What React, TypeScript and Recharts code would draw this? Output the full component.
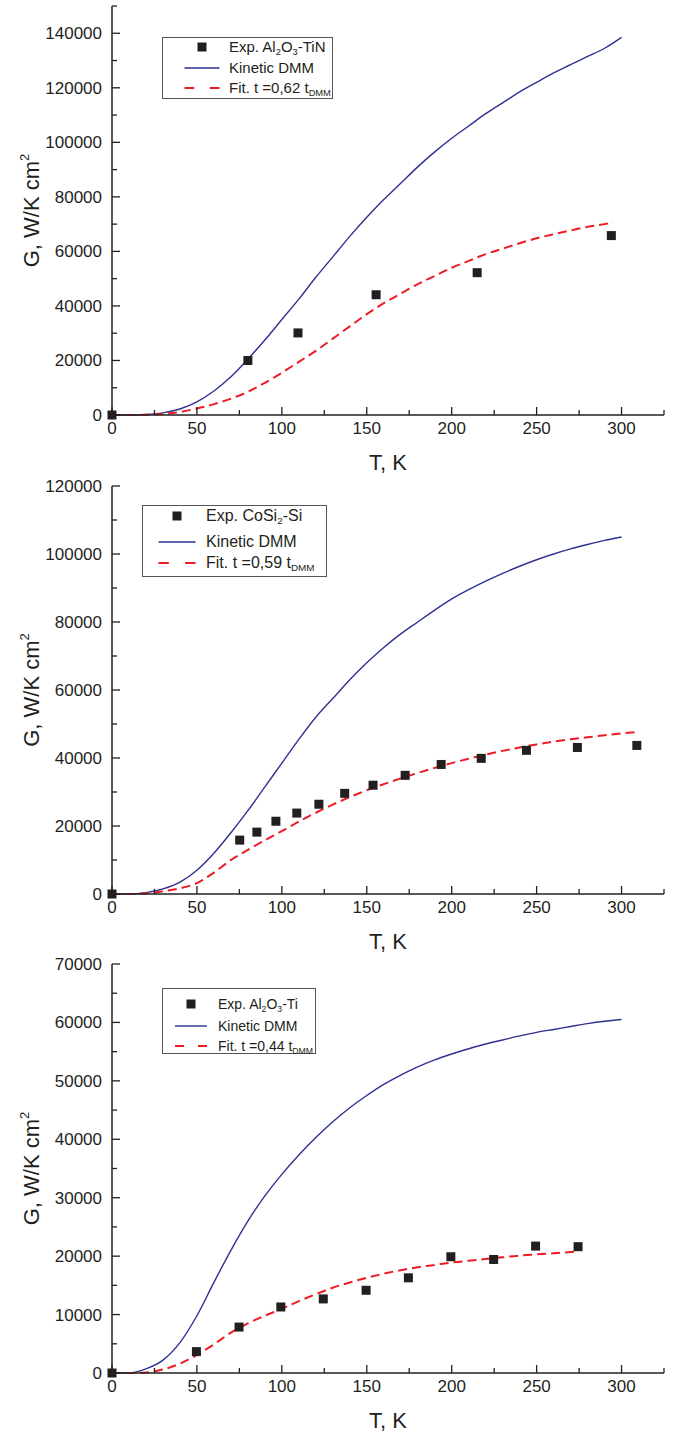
import React from 'react';
import { ComposedChart, Line, Scatter, XAxis, YAxis, Legend, Label } from 'recharts';

const FONT = '"Liberation Sans", Arial, Helvetica, sans-serif';
const INK = '#231f20';
const BLUE = '#2e3192';
const RED = '#ed1c24';

// shared temperature grid for the model curves
const tGrid = [0, 10, 20, 30, 40, 50, 60, 70, 80, 90, 100, 110, 120, 130, 140, 150, 160, 170, 180, 190, 200, 210, 220, 230, 240, 250, 260, 270, 280, 290, 300];
const xTicks = [0, 25, 50, 75, 100, 125, 150, 175, 200, 225, 250, 275, 300, 325];

// panel 1: Al2O3-TiN
const tinExpT = [0, 80, 109.5, 155.5, 215, 294];
const tinExpG = [0, 20000, 30100, 44100, 52200, 65800];
const tinDmmG = [0, 0, 200, 800, 2200, 4800, 8800, 14000, 20500, 27500, 35000, 42500, 50500, 58000, 65500, 72500, 79000, 85000, 91000, 96500, 101500, 106000, 110500, 114500, 118500, 122000, 125500, 128500, 131500, 134500, 138500];
const tinFitT = [0, 10, 20, 30, 40, 50, 60, 70, 80, 90, 100, 110, 120, 130, 140, 150, 160, 170, 180, 190, 200, 210, 220, 230, 240, 250, 260, 270, 280, 290, 295];
const tinFitG = [0, 0, 100, 400, 1100, 2400, 4000, 6000, 8500, 11800, 15500, 19500, 23500, 28000, 32500, 37000, 41000, 44500, 48000, 51000, 54000, 56500, 59000, 61000, 63000, 64800, 66300, 67700, 69000, 70000, 70500];
const tinYTicks = [0, 10000, 20000, 30000, 40000, 50000, 60000, 70000, 80000, 90000, 100000, 110000, 120000, 130000, 140000, 150000];

// panel 2: CoSi2-Si
const cosiExpT = [0, 75.2, 85.3, 96.5, 108.8, 121.8, 137, 153.7, 172.6, 193.8, 217.4, 244, 274, 309];
const cosiExpG = [0, 15850, 18200, 21400, 23800, 26400, 29600, 32000, 34900, 38100, 39900, 42250, 43100, 43700];
const cosiDmmG = [0, 0, 400, 1500, 3500, 7000, 12000, 18000, 24500, 31500, 38500, 45500, 52000, 57500, 63000, 68000, 72500, 76500, 80000, 83500, 86800, 89500, 92000, 94300, 96400, 98300, 100000, 101500, 102800, 104000, 105000];
const cosiFitT = [0, 10, 20, 30, 40, 50, 60, 70, 80, 90, 100, 110, 120, 130, 140, 150, 160, 170, 180, 190, 200, 210, 220, 230, 240, 250, 260, 270, 280, 290, 300, 310];
const cosiFitG = [0, 0, 200, 800, 1700, 3200, 6300, 10000, 13000, 15800, 18500, 21300, 23900, 26300, 28500, 30500, 32300, 34000, 35600, 37100, 38500, 39800, 41000, 42100, 43100, 44000, 44800, 45500, 46100, 46700, 47200, 47700];
const cosiYTicks = [0, 10000, 20000, 30000, 40000, 50000, 60000, 70000, 80000, 90000, 100000, 110000, 120000];

// panel 3: Al2O3-Ti
const tiExpT = [0, 49.7, 74.8, 99.4, 124.4, 149.6, 174.5, 199.5, 224.7, 249.4, 274.4];
const tiExpG = [0, 3660, 7860, 11300, 12680, 14160, 16290, 19900, 19430, 21720, 21620];
const tiDmmG = [0, 0, 700, 2200, 5200, 9800, 15500, 21000, 26000, 30300, 34000, 37300, 40300, 43000, 45400, 47500, 49400, 51000, 52400, 53600, 54600, 55500, 56300, 57000, 57700, 58300, 58800, 59300, 59800, 60200, 60500];
const tiFitT = [0, 10, 20, 30, 40, 50, 60, 70, 80, 90, 100, 110, 120, 130, 140, 150, 160, 170, 180, 190, 200, 210, 220, 230, 240, 250, 260, 270, 275];
const tiFitG = [0, 0, 100, 600, 1600, 3100, 4900, 6900, 8500, 9800, 11000, 12300, 13500, 14600, 15500, 16300, 17000, 17600, 18100, 18500, 18900, 19200, 19500, 19800, 20100, 20300, 20500, 20700, 20800];
const tiYTicks = [0, 5000, 10000, 15000, 20000, 25000, 30000, 35000, 40000, 45000, 50000, 55000, 60000, 65000, 70000];

const pts = (t: number[], g: number[]) => t.map((v, i) => ({ t: v, g: g[i] }));

const XTick = (props: any) => {
  const { x, y, payload } = props;
  const v = payload.value;
  const major = v % 50 === 0;
  return (
    <g>
      <line x1={x} x2={x} y1={y} y2={y - (major ? 8 : 5)} stroke={INK} strokeWidth={1.3} />
      {major && v <= 300 && (
        <text x={x} y={y + 19} textAnchor="middle" fontSize={17} fill={INK} fontFamily={FONT}>
          {v}
        </text>
      )}
    </g>
  );
};

const YTick = (props: any) => {
  const { x, y, payload, step } = props;
  const v = payload.value;
  const major = v % step === 0;
  return (
    <g>
      <line x1={x} x2={x + (major ? 8 : 5)} y1={y} y2={y} stroke={INK} strokeWidth={1.3} />
      {major && (
        <text x={x - 10} y={y + 6} textAnchor="end" fontSize={17} fill={INK} fontFamily={FONT}>
          {v}
        </text>
      )}
    </g>
  );
};

const YTitle = (props: any) => {
  const vb = props.viewBox || {};
  const cx = 39;
  const cy = vb.y + vb.height / 2;
  return (
    <text
      x={cx}
      y={cy}
      transform={`rotate(-90 ${cx} ${cy})`}
      textAnchor="middle"
      fontSize={22}
      fill={INK}
      fontFamily={FONT}
    >
      G, W/K cm<tspan fontSize={13} dy={-10}>2</tspan>
    </text>
  );
};

const XTitle = (props: any) => {
  const vb = props.viewBox || {};
  return (
    <text x={vb.x + vb.width / 2} y={vb.y + 55} textAnchor="middle" fontSize={22} fill={INK} fontFamily={FONT}>
      T, K
    </text>
  );
};

const Square = (props: any) => {
  const { cx, cy } = props;
  if (cx == null || cy == null) return null;
  return <rect x={cx - 4.5} y={cy - 4.5} width={9} height={9} fill={INK} />;
};

const subStyle: React.CSSProperties = { fontSize: '0.62em', verticalAlign: '-0.35em', lineHeight: 0 };

interface BoxCfg {
  width: number;
  height: number;
  symX: number;
  textX: number;
  rows: number[];
  fontSize: number;
  lineLen: number;
  labels: React.ReactNode[];
}

const LegendBox = ({ cfg }: { cfg: BoxCfg }) => {
  const half = cfg.lineLen / 2;
  const symbols = [
    <rect key="s" x={cfg.symX - 4.5} y={-4.5} width={9} height={9} fill={INK} />,
    <line key="l" x1={cfg.symX - half} x2={cfg.symX + half} y1={0} y2={0} stroke={BLUE} strokeWidth={1.4} />,
    <line key="d" x1={cfg.symX - half} x2={cfg.symX + half} y1={0} y2={0} stroke={RED} strokeWidth={2} strokeDasharray={`${cfg.lineLen * 0.28} ${cfg.lineLen * 0.44}`} />,
  ];
  return (
    <div
      style={{
        position: 'relative',
        width: cfg.width,
        height: cfg.height,
        border: '1px solid #555',
        boxSizing: 'border-box',
        background: '#fff',
        fontFamily: FONT,
        color: INK,
      }}
    >
      {cfg.rows.map((ry, i) => (
        <React.Fragment key={i}>
          <svg width={cfg.textX} height={12} style={{ position: 'absolute', left: 0, top: ry - 6 }}>
            <g transform="translate(0,6)">{symbols[i]}</g>
          </svg>
          <div
            style={{
              position: 'absolute',
              left: cfg.textX,
              top: ry - cfg.fontSize * 0.6,
              fontSize: cfg.fontSize,
              lineHeight: `${cfg.fontSize * 1.2}px`,
              whiteSpace: 'nowrap',
            }}
          >
            {cfg.labels[i]}
          </div>
        </React.Fragment>
      ))}
    </div>
  );
};

interface PanelProps {
  top: number;
  height: number;
  marginTop: number;
  xAxisHeight: number;
  yMax: number;
  yTicks: number[];
  yStep: number;
  exp: { t: number; g: number }[];
  dmm: { t: number; g: number }[];
  fit: { t: number; g: number }[];
  legendLeft: number;
  legendTop: number;
  legend: BoxCfg;
}

const Panel = (p: PanelProps) => (
  <div style={{ position: 'absolute', left: 0, top: p.top, width: 683, height: p.height }}>
    <ComposedChart width={683} height={p.height} margin={{ top: p.marginTop, right: 19, left: 0, bottom: 0 }}>
      <XAxis
        type="number"
        dataKey="t"
        domain={[0, 325]}
        ticks={xTicks}
        interval={0}
        height={p.xAxisHeight}
        tickSize={0}
        tickMargin={0}
        tickLine={false}
        axisLine={{ stroke: INK, strokeWidth: 1.5 }}
        tick={<XTick />}
      >
        <Label content={<XTitle />} />
      </XAxis>
      <YAxis
        type="number"
        dataKey="g"
        domain={[0, p.yMax]}
        ticks={p.yTicks}
        interval={0}
        width={112}
        tickSize={0}
        tickMargin={0}
        tickLine={false}
        axisLine={{ stroke: INK, strokeWidth: 1.5 }}
        tick={<YTick step={p.yStep} />}
      >
        <Label content={<YTitle />} />
      </YAxis>
      <Legend
        layout="vertical"
        align="center"
        verticalAlign="middle"
        wrapperStyle={{ left: p.legendLeft, top: p.legendTop, width: p.legend.width, height: p.legend.height }}
        content={() => <LegendBox cfg={p.legend} />}
      />
      <Line data={p.dmm} dataKey="g" type="monotone" stroke={BLUE} strokeWidth={1.4} dot={false} isAnimationActive={false} />
      <Line data={p.fit} dataKey="g" type="monotone" stroke={RED} strokeWidth={2} strokeDasharray="9 5" dot={false} isAnimationActive={false} />
      <Scatter data={p.exp} dataKey="g" shape={<Square />} isAnimationActive={false} />
    </ComposedChart>
  </div>
);

export default function App() {
  return (
    <div style={{ position: 'absolute', left: 0, top: 0, width: 683, height: 1433, background: '#fff' }}>
      <Panel
        top={0}
        height={478}
        marginTop={6}
        xAxisHeight={63}
        yMax={150000}
        yTicks={tinYTicks}
        yStep={20000}
        exp={pts(tinExpT, tinExpG)}
        dmm={pts(tGrid, tinDmmG)}
        fit={pts(tinFitT, tinFitG)}
        legendLeft={162}
        legendTop={37}
        legend={{
          width: 171,
          height: 62,
          symX: 39,
          textX: 66,
          rows: [9, 30, 50],
          fontSize: 15,
          lineLen: 35,
          labels: [
            <>Exp. Al<sub style={subStyle}>2</sub>O<sub style={subStyle}>3</sub>-TiN</>,
            'Kinetic DMM',
            <>Fit. t =0,62 t<sub style={subStyle}>DMM</sub></>,
          ],
        }}
      />
      <Panel
        top={478}
        height={478}
        marginTop={8}
        xAxisHeight={62}
        yMax={120000}
        yTicks={cosiYTicks}
        yStep={20000}
        exp={pts(cosiExpT, cosiExpG)}
        dmm={pts(tGrid, cosiDmmG)}
        fit={pts(cosiFitT, cosiFitG)}
        legendLeft={142}
        legendTop={27}
        legend={{
          width: 185,
          height: 72,
          symX: 34,
          textX: 63,
          rows: [10, 36, 57],
          fontSize: 16,
          lineLen: 37,
          labels: [
            <>Exp. CoSi<sub style={subStyle}>2</sub>-Si</>,
            'Kinetic DMM',
            <>Fit. t =0,59 t<sub style={subStyle}>DMM</sub></>,
          ],
        }}
      />
      <Panel
        top={956}
        height={477}
        marginTop={8}
        xAxisHeight={60}
        yMax={70000}
        yTicks={tiYTicks}
        yStep={10000}
        exp={pts(tiExpT, tiExpG)}
        dmm={pts(tGrid, tiDmmG)}
        fit={pts(tiFitT, tiFitG)}
        legendLeft={162}
        legendTop={32}
        legend={{
          width: 154,
          height: 66,
          symX: 28,
          textX: 55,
          rows: [15, 37, 57],
          fontSize: 14,
          lineLen: 32,
          labels: [
            <>Exp. Al<sub style={subStyle}>2</sub>O<sub style={subStyle}>3</sub>-Ti</>,
            'Kinetic DMM',
            <>Fit. t =0,44 t<sub style={subStyle}>DMM</sub></>,
          ],
        }}
      />
    </div>
  );
}
